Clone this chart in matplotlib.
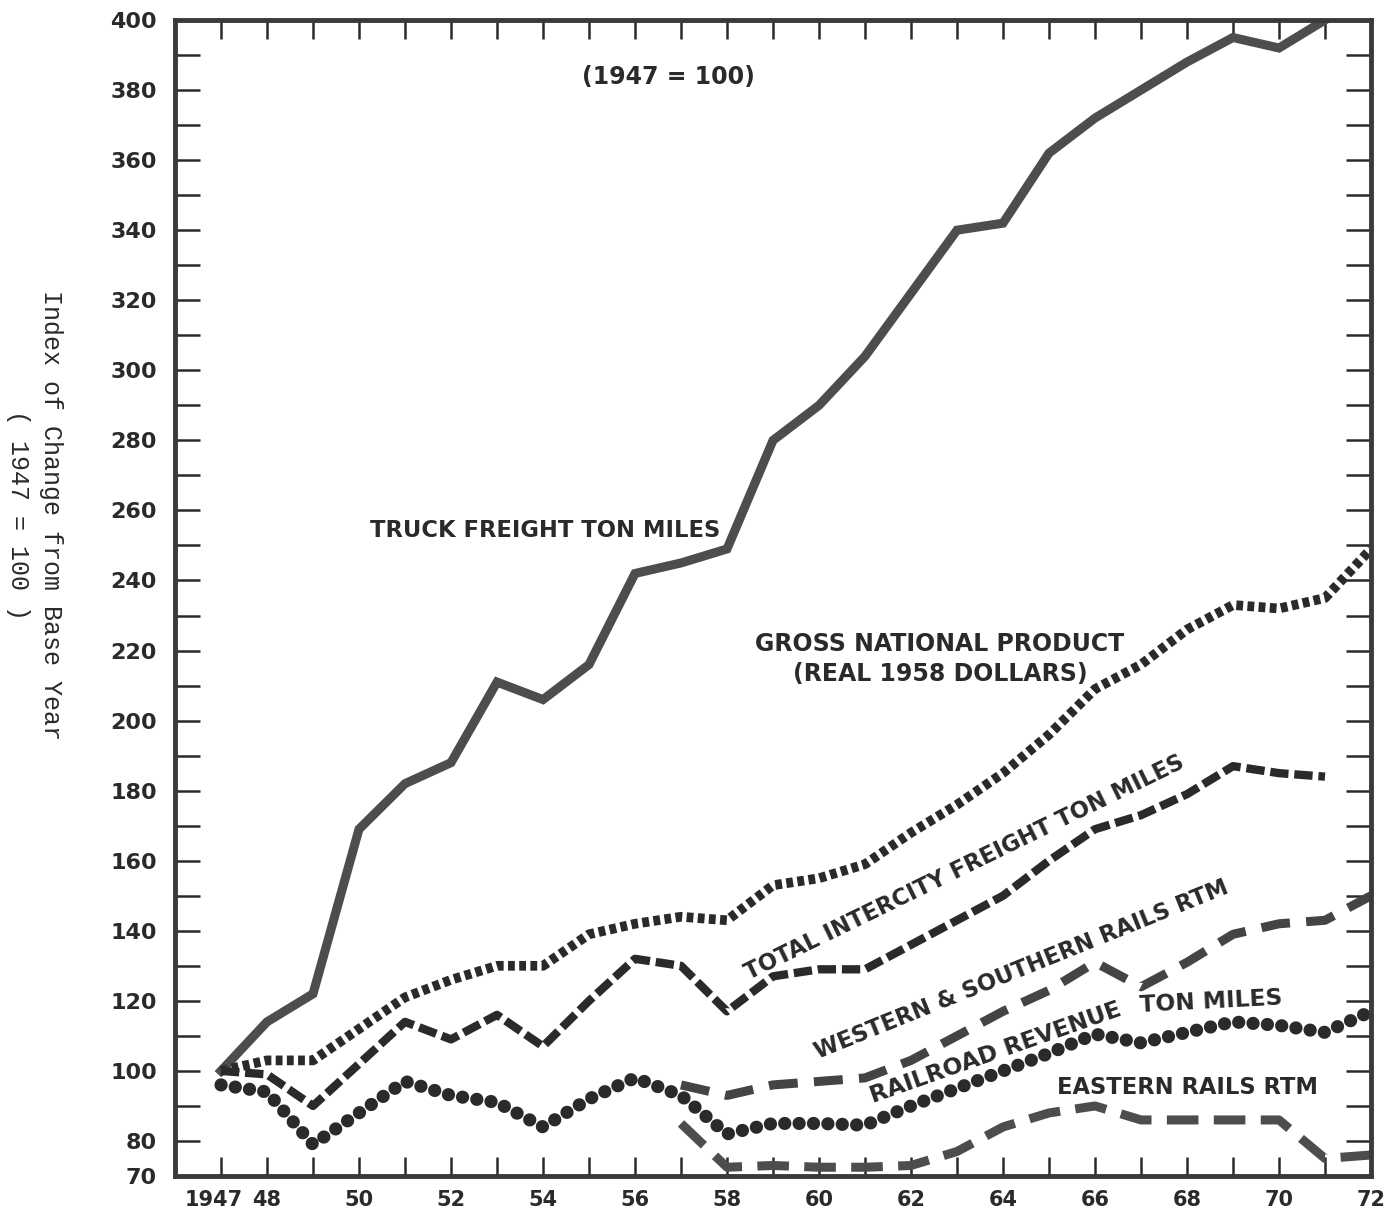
import matplotlib
matplotlib.use("Agg")
import matplotlib.pyplot as plt
from matplotlib.ticker import MultipleLocator, FixedLocator
from matplotlib.transforms import ScaledTranslation

# index values, 1947 = 100
truck_years = list(range(1947, 1972))
truck = [100, 114, 122, 169, 182, 188, 211, 206, 216, 242, 245, 249, 280,
         290, 304, 322, 340, 342, 362, 372, 380, 388, 395, 392, 400]

gnp_years = list(range(1947, 1973))
gnp = [100, 103, 103, 112, 121, 126, 130, 130, 139, 142, 144, 143, 153,
       155, 159, 168, 176, 185, 196, 209, 216, 226, 233, 232, 235, 249]

intercity_years = list(range(1947, 1972))
intercity = [100, 99, 90, 102, 114, 109, 116, 107, 120, 132, 130, 117, 127,
             129, 129, 136, 143, 150, 160, 169, 173, 179, 187, 185, 184]

ws_years = list(range(1957, 1973))
ws_rails = [96, 93, 96, 97, 98, 103, 110, 117, 123, 131, 124, 131, 139,
            142, 143, 150]

rr_years = list(range(1947, 1973))
rr_revenue = [96, 94, 79, 88, 97, 93, 91, 84, 92, 98, 93, 82, 85, 85, 84.5,
              90, 95, 100, 105, 110.5, 108, 111, 114, 113, 111, 117]

east_years = list(range(1957, 1973))
east_rails = [85, 72.5, 73, 72.5, 72.5, 73, 77, 84, 88, 90, 86, 86, 86, 86,
              75, 76]

x_tick_years = [1947, 1948, 1950, 1952, 1954, 1956, 1958, 1960, 1962, 1964,
                1966, 1968, 1970, 1972]
x_tick_labels = ['1947', '48', '50', '52', '54', '56', '58', '60', '62', '64',
                 '66', '68', '70', '72']
y_tick_values = [70, 80] + list(range(100, 401, 20))

LBL = 'DejaVu Sans'
INK = '#2a2a2a'


def make_chart():
    fig = plt.figure(figsize=(13.91, 12.15), dpi=100)
    ax = fig.add_axes([175 / 1391, 39 / 1215, 1196 / 1391, 1156 / 1215])

    ax.plot(truck_years, truck, color='#4d4d4d', lw=6.5, solid_joinstyle='miter')
    ax.plot(gnp_years, gnp, color=INK, lw=7, linestyle=(0, (0.7, 0.45)),
            dash_capstyle='butt')
    ax.plot(intercity_years, intercity, color=INK, lw=6,
            linestyle=(0, (2.2, 0.7)), dash_capstyle='butt')
    ax.plot(ws_years, ws_rails, color='#444444', lw=6.5,
            linestyle=(0, (3.2, 1.8)), dash_capstyle='butt')
    ax.plot(rr_years, rr_revenue, color=INK, lw=9.5,
            linestyle=(0, (0.01, 1.08)), dash_capstyle='round')
    ax.plot(east_years, east_rails, color='#4d4d4d', lw=6.5,
            linestyle=(0, (3.5, 1.7)), dash_capstyle='butt')

    ax.set_xlim(1946, 1972)
    ax.set_ylim(70, 400)

    ax.xaxis.set_major_locator(FixedLocator(x_tick_years))
    ax.set_xticklabels(x_tick_labels)
    ax.xaxis.set_minor_locator(FixedLocator(list(range(1947, 1972))))
    ax.yaxis.set_major_locator(FixedLocator(y_tick_values))
    ax.yaxis.set_minor_locator(MultipleLocator(10))

    for which in ('major', 'minor'):
        ax.tick_params(axis='x', which=which, direction='in', length=14,
                       width=1.8, color=INK, top=True, bottom=True, pad=10)
        ax.tick_params(axis='y', which=which, direction='in', length=18,
                       width=1.8, color=INK, left=True, right=True, pad=13)
    for lab in ax.get_yticklabels():
        lab.set_fontsize(16)
    for lab in ax.get_xticklabels():
        lab.set_fontsize(15)
    for lab in ax.get_xticklabels() + ax.get_yticklabels():
        lab.set_fontweight('bold')
        lab.set_family(LBL)
        lab.set_color(INK)
    first = ax.get_xticklabels()[0]
    first.set_transform(first.get_transform()
                        + ScaledTranslation(-5 / 72, 0, fig.dpi_scale_trans))

    for sp in ax.spines.values():
        sp.set_linewidth(3.5)
        sp.set_color('#3a3a3a')

    ax.text(1956.72, 383.7, '(1947 = 100)', ha='center', va='center',
            fontsize=17, fontweight='bold', family=LBL, color=INK)
    ax.text(1954.04, 254.4, 'TRUCK FREIGHT TON MILES', ha='center', va='center',
            fontsize=16.3, fontweight='bold', family=LBL, color=INK)
    ax.text(1962.63, 217.6, 'GROSS NATIONAL PRODUCT\n(REAL 1958 DOLLARS)',
            ha='center', va='center', multialignment='center', linespacing=1.3,
            fontsize=17, fontweight='bold', family=LBL, color=INK)
    ax.text(1963.17, 157.9, 'TOTAL INTERCITY FREIGHT TON MILES', ha='center',
            va='center', rotation=26, rotation_mode='anchor',
            fontsize=16.3, fontweight='bold', family=LBL, color=INK)
    ax.text(1964.41, 128.8, 'WESTERN & SOUTHERN RAILS RTM', ha='center',
            va='center', rotation=22, rotation_mode='anchor',
            fontsize=16.3, fontweight='bold', family=LBL, color=INK)
    # this label bends with the dotted line
    ax.text(1961.17, 90.8, 'RAILROAD REVENUE', ha='left', va='baseline',
            rotation=19.4, rotation_mode='anchor',
            fontsize=16.8, fontweight='bold', family=LBL, color=INK)
    ax.text(1966.98, 116.8, 'TON MILES', ha='left', va='baseline',
            rotation=3, rotation_mode='anchor',
            fontsize=16.8, fontweight='bold', family=LBL, color=INK)
    ax.text(1968.02, 95.4, 'EASTERN RAILS RTM', ha='center', va='center',
            fontsize=16.3, fontweight='bold', family=LBL, color=INK)

    fig.text(34.5 / 1391, 1 - 515 / 1215,
             'Index of Change from Base Year\n( 1947 = 100 )',
             rotation=-90, ha='center', va='center', multialignment='center',
             linespacing=1.45, fontsize=18, family='Liberation Mono', color=INK)
    return fig


def main():
    fig = make_chart()
    fig.savefig('out.png', dpi=100)


if __name__ == "__main__":
    main()
